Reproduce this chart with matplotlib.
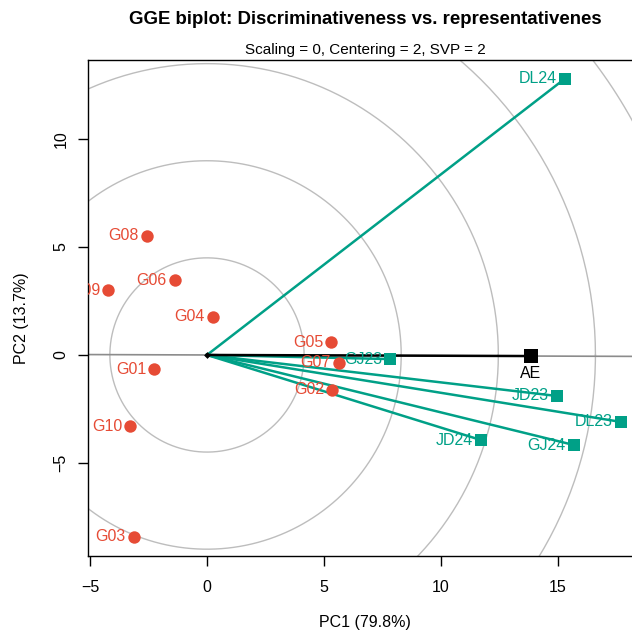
import numpy as np
import matplotlib
matplotlib.use("Agg")
import matplotlib.pyplot as plt

plt.rcParams['font.family'] = ['Liberation Sans', 'DejaVu Sans']

# --- data ---
gen_names = ['G01', 'G02', 'G03', 'G04', 'G05', 'G06', 'G07', 'G08', 'G09', 'G10']
gen_pc1 = [-2.26, 5.34, -3.12, 0.26, 5.30, -1.37, 5.64, -2.56, -4.23, -3.29]
gen_pc2 = [-0.65, -1.62, -8.43, 1.76, 0.60, 3.47, -0.37, 5.51, 3.00, -3.29]

env_names = ['DL23', 'DL24', 'GJ23', 'GJ24', 'JD23', 'JD24']
env_pc1 = [17.69, 15.30, 7.82, 15.68, 14.96, 11.71]
env_pc2 = [-3.10, 12.80, -0.19, -4.17, -1.90, -3.94]

ae_pc1, ae_pc2 = 13.85, -0.05
circle_radii = [4.15, 8.30, 12.45, 16.60, 20.75]

gen_col = '#E64B35'
env_col = '#00A087'

W, H = 632, 631
fig = plt.figure(figsize=(W / 100, H / 100), dpi=100)
# axes box in pixels: left 88, right 642 (runs off the picture), top 60, bottom 556
L, R, T, B = 88, 642, 60, 556
ax = fig.add_axes([L / W, (H - B) / H, (R - L) / W, (B - T) / H])
xlim = (-5.085, 18.59)
ylim = (-9.31, 13.66)
ax.set_xlim(xlim)
ax.set_ylim(ylim)

# circles are round on the device, radius in x units
px_x = (R - L) / (xlim[1] - xlim[0])
px_y = (B - T) / (ylim[1] - ylim[0])
t = np.linspace(0, 2 * np.pi, 400)
for r in circle_radii:
    ax.plot(r * np.cos(t), r * np.sin(t) * px_x / px_y, color='#bdbdbd', lw=1.0, zorder=1)

# AE abscissa through the origin
slope = ae_pc2 / ae_pc1
xx = np.array(xlim)
ax.plot(xx, slope * xx, color='#8c8c8c', lw=1.2, zorder=2)

# environment vectors
for x, y in zip(env_pc1, env_pc2):
    ax.plot([0, x], [0, y], color=env_col, lw=1.8, zorder=3)
ax.plot([0, ae_pc1], [0, ae_pc2], color='black', lw=1.8, zorder=4)

ax.scatter(env_pc1, env_pc2, marker='s', s=80, color=env_col, zorder=5, linewidths=0)
ax.scatter([ae_pc1], [ae_pc2], marker='s', s=100, color='black', zorder=6, linewidths=0)
ax.scatter(gen_pc1, gen_pc2, marker='o', s=80, color=gen_col, zorder=5, linewidths=0)
ax.scatter([0], [0], marker='D', s=12, color='black', zorder=6, linewidths=0)

for n, x, y in zip(env_names, env_pc1, env_pc2):
    ax.annotate(n, (x, y), xytext=(-8, 0), textcoords='offset pixels',
                ha='right', va='center', color=env_col, fontsize=11.5, zorder=7)
for n, x, y in zip(gen_names, gen_pc1, gen_pc2):
    ax.annotate(n, (x, y), xytext=(-8, 0), textcoords='offset pixels',
                ha='right', va='center', color=gen_col, fontsize=11.5, zorder=7,
                annotation_clip=False, clip_on=True)
ax.annotate('AE', (ae_pc1, ae_pc2), xytext=(0, -17), textcoords='offset pixels',
            ha='center', va='center', color='black', fontsize=11.5, zorder=7)

ax.set_xticks([-5, 0, 5, 10, 15])
ax.set_yticks([-5, 0, 5, 10])
ax.set_yticklabels(['\u22125', '0', '5', '10'], rotation=90, va='center')
ax.set_xticklabels(['\u22125', '0', '5', '10', '15'])
ax.tick_params(direction='out', length=7, width=1, labelsize=11.5)
ax.tick_params(axis='x', pad=10)
ax.tick_params(axis='y', pad=7)
for s in ax.spines.values():
    s.set_linewidth(1.0)
ax.spines['right'].set_visible(False)

ax.set_xlabel('PC1 (79.8%)', fontsize=11.5, va='center')
ax.set_ylabel('PC2 (13.7%)', fontsize=11.5, va='center')
ax.xaxis.set_label_coords(((365 - L) / (R - L)), (B - 622) / (B - T))
ax.yaxis.set_label_coords((22 - L) / (R - L), (B - 318) / (B - T))

fig.text((L + R) / 2 / W, 1 - 20 / H, 'GGE biplot: Discriminativeness vs. representativenes',
         ha='center', va='center', fontsize=13.4, fontweight='bold')
fig.text((L + R) / 2 / W, 1 - 50 / H, 'Scaling = 0, Centering = 2, SVP = 2',
         ha='center', va='center', fontsize=11)

fig.savefig('out.png', dpi=100)
